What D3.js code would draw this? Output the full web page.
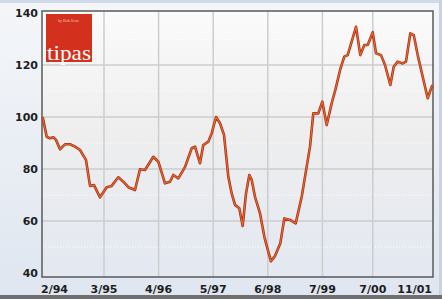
<!DOCTYPE html>
<html>
<head>
<meta charset="utf-8">
<script src="https://cdn.jsdelivr.net/npm/d3@7"></script>
<style>
body { margin: 0; background: #e4eaf2; }
svg { display: block; }
.tick-label { font-family: "DejaVu Sans", Verdana, sans-serif; font-weight: bold; font-size: 11px; fill: #1e1e1e; }
</style>
</head>
<body>
<div id="chart"></div>
<script>
// months counted from 2/94 (0 = Feb 1994)
var months = [-1.6, -0.64, 0.14, 0.93, 1.57, 2.52, 3.71, 4.9, 6.1, 7.29, 8.71, 9.67, 10.62, 12.05,
  13.64, 14.83, 16.4, 17.6, 18.79, 20.38, 21.57, 22.76, 24.74, 25.93, 27.52, 28.71, 29.5, 30.69,
  32.28, 33.88, 34.67, 35.86, 36.64, 37.83, 38.64, 39.67, 40.62, 41.57, 42.6, 43.4, 44.19, 45.21,
  46.02, 46.81, 47.6, 48.17, 48.95, 50.14, 51.17, 51.98, 52.76, 53.71, 54.98, 55.93, 57.29, 58.64,
  60.07, 61.26, 62.05, 62.83, 64.02, 64.98, 66.02, 67.21, 68.17, 69.19, 70.21, 71.02, 73, 74.02,
  74.98, 75.79, 76.98, 77.76, 78.95, 79.9, 81.17, 81.98, 82.93, 84.12, 84.9, 85.93, 86.74, 87.69,
  88.88, 90.07, 91.02, 91.33];
var values = [100, 92.4, 91.8, 92.2, 91.2, 87.6, 89.5, 89.5, 88.6, 87.3, 83.5, 73.5, 73.8, 69.1,
  73, 73.5, 76.8, 75.1, 73, 71.9, 79.9, 79.6, 84.7, 82.8, 74.5, 75.1, 77.7, 76.4,
  80.7, 88, 88.6, 82.2, 89.2, 90.5, 93.7, 100, 97.6, 93.1, 77, 70.6, 66.2, 64.9,
  58.1, 70.6, 77.7, 75.8, 69.3, 63, 54, 49, 44.5, 46.5, 51.4, 61, 60.4, 59.1,
  69.3, 80.9, 88.6, 101.4, 101.4, 105.9, 96.9, 105.3, 111, 118, 123.2, 123.8, 134.7, 123.8,
  127.7, 127.7, 132.6, 124.5, 123.8, 120, 112.3, 119.3, 121.3, 120.6, 121.3, 132.2, 131.5, 123.8,
  115.5, 107.2, 111.7, 112.3];

var xTickMonths = [0, 13, 26, 39, 52, 65, 77, 93];
var xTickLabels = ["2/94", "3/95", "4/96", "5/97", "6/98", "7/99", "7/00", "11/01"];
var yTicks = [40, 60, 80, 100, 120, 140];
var yMinor = [50, 70, 90, 110, 130];

var W = 442, H = 299;
var svg = d3.select("#chart").append("svg").attr("width", W).attr("height", H);

var x = d3.scaleLinear().domain([-1.76, 91.33]).range([42, 433]);
var y = d3.scaleLinear().domain([40, 140]).range([273, 13]);

var defs = svg.append("defs");
var bg = defs.append("linearGradient").attr("id", "bg").attr("x1", 0).attr("y1", 0).attr("x2", 0).attr("y2", 1);
bg.append("stop").attr("offset", "0%").attr("stop-color", "#fbfbfb");
bg.append("stop").attr("offset", "45%").attr("stop-color", "#eeeeee");
bg.append("stop").attr("offset", "100%").attr("stop-color", "#e3e8f1");
var pg = defs.append("linearGradient").attr("id", "pg").attr("x1", 0).attr("y1", 0).attr("x2", 0).attr("y2", 1);
pg.append("stop").attr("offset", "0%").attr("stop-color", "#f4f6f9");
pg.append("stop").attr("offset", "100%").attr("stop-color", "#dfe6f0");

// page background and frame edges
svg.append("rect").attr("width", W).attr("height", H).attr("fill", "url(#pg)");
svg.append("rect").attr("x", 0).attr("y", 0).attr("width", W).attr("height", 3).attr("fill", "#cfdbea");
svg.append("rect").attr("x", 0).attr("y", 295).attr("width", W).attr("height", 4).attr("fill", "#6f6f6f");
svg.append("rect").attr("x", 439).attr("y", 0).attr("width", 3).attr("height", 295).attr("fill", "#c9d3df");

// plot area
svg.append("rect").attr("x", 42).attr("y", 11).attr("width", 391).attr("height", 266).attr("fill", "url(#bg)");

// grid
svg.append("g").selectAll("line").data(yMinor).enter().append("line")
  .attr("x1", 42).attr("x2", 433).attr("y1", d => y(d)).attr("y2", d => y(d))
  .attr("stroke", "#ffffff").attr("stroke-width", 1).attr("stroke-dasharray", "1,2");
svg.append("g").selectAll("line").data(yTicks.slice(1, -1)).enter().append("line")
  .attr("x1", 42).attr("x2", 433).attr("y1", d => y(d)).attr("y2", d => y(d))
  .attr("stroke", "#cdcdcd").attr("stroke-width", 1.5);
svg.append("g").selectAll("line").data(xTickMonths.slice(1, -1)).enter().append("line")
  .attr("y1", 11).attr("y2", 277).attr("x1", d => x(d)).attr("x2", d => x(d))
  .attr("stroke", "#cdcdcd").attr("stroke-width", 1.5);

// logo
var logo = svg.append("g").attr("transform", "translate(46,14)");
logo.append("rect").attr("width", 46).attr("height", 48).attr("fill", "#d3301e");
logo.append("text").attr("x", 12).attr("y", 8).attr("fill", "#f3c7b8")
  .style("font-family", "Liberation Serif, serif").style("font-size", "4px").text("by Bob Senn");
logo.append("text").attr("x", 4).attr("y", 14).attr("fill", "#f3c7b8")
  .attr("transform", "rotate(-90,4,14)")
  .style("font-family", "Liberation Serif, serif").style("font-size", "4px").attr("text-anchor", "end").text("");
logo.append("text").attr("x", 1).attr("y", 46).attr("fill", "#ffffff")
  .attr("textLength", 44).attr("lengthAdjust", "spacingAndGlyphs")
  .style("font-family", "Liberation Serif, serif").style("font-size", "22px").text("tipas");

// frame
svg.append("rect").attr("x", 42).attr("y", 11).attr("width", 391).attr("height", 266)
  .attr("fill", "none").attr("stroke", "#5a5a5a").attr("stroke-width", 1.5);

// line
var line = d3.line().x((d, i) => x(months[i])).y(d => y(d));
svg.append("path").datum(values).attr("d", line).attr("fill", "none")
  .attr("stroke", "#a8301a").attr("stroke-width", 2.6).attr("stroke-linejoin", "round");
svg.append("path").datum(values).attr("d", line).attr("fill", "none")
  .attr("stroke", "#ea6a2c").attr("stroke-width", 1.1).attr("stroke-linejoin", "round");

// y labels
svg.append("g").selectAll("text").data(yTicks).enter().append("text")
  .attr("class", "tick-label").attr("x", 38).attr("y", d => y(d)).attr("dy", "0.36em")
  .attr("text-anchor", "end").text(d => d);

// x labels: first/last pinned to the frame edges
svg.append("g").selectAll("text").data(xTickLabels).enter().append("text")
  .attr("class", "tick-label")
  .attr("x", (d, i) => i === 0 ? 41 : i === xTickLabels.length - 1 ? 432 : x(xTickMonths[i]))
  .attr("y", 293)
  .attr("text-anchor", (d, i) => i === 0 ? "start" : i === xTickLabels.length - 1 ? "end" : "middle")
  .text(d => d);
</script>
</body>
</html>
